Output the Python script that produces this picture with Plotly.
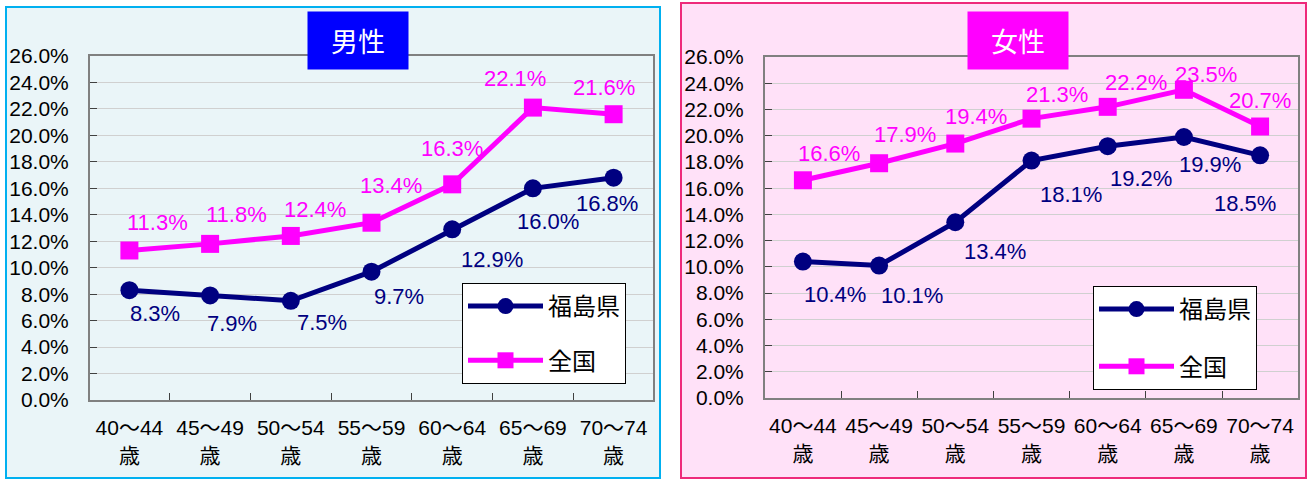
import plotly.graph_objects as go

# ---- data ----
age_groups = ["40～44<br>歳", "45～49<br>歳", "50～54<br>歳", "55～59<br>歳",
              "60～64<br>歳", "65～69<br>歳", "70～74<br>歳"]
male_fukushima = [8.3, 7.9, 7.5, 9.7, 12.9, 16.0, 16.8]
male_national = [11.3, 11.8, 12.4, 13.4, 16.3, 22.1, 21.6]
female_fukushima = [10.4, 10.1, 13.4, 18.1, 19.2, 19.9, 18.5]
female_national = [16.6, 17.9, 19.4, 21.3, 22.2, 23.5, 20.7]
series_names = ["福島県", "全国"]
panel_titles = ["男性", "女性"]
y_ticks = [0, 2, 4, 6, 8, 10, 12, 14, 16, 18, 20, 22, 24, 26]
y_tick_labels = [f"{v:.1f}%" for v in y_ticks]

# ---- label offsets (px: dx right, dy up) ----
off_mf = [(26, -23), (22, -28), (31, -22), (27, -25), (40, -30), (15, -33), (-7, -26)]
off_mn = [(28, 28), (26, 29), (24, 26), (19, 37), (0, 36), (-18, 29), (-10, 27)]
off_ff = [(32, -33), (33, -30), (40, -29), (39, -34), (33, -32), (26, -27), (-15, -48)]
off_fn = [(26, 27), (26, 29), (21, 27), (25, 24), (28, 24), (22, 15), (0, 26)]

W, H = 1309, 480
NAVY = "#000080"
MAGENTA = "#FF00FF"
NUM_FONT = "Liberation Sans, Arial, sans-serif"
JP_FONT = "Liberation Sans, Noto Sans CJK JP, sans-serif"


def px(xp):
    return xp / W


def py(yp):
    return 1 - yp / H


fig = go.Figure()

panels = [
    dict(xa="x", ya="y", legend="legend", fk=male_fukushima, nt=male_national,
         offf=off_mf, offn=off_mn),
    dict(xa="x2", ya="y2", legend="legend2", fk=female_fukushima, nt=female_national,
         offf=off_ff, offn=off_fn),
]

annotations = []
for pi, p in enumerate(panels):
    for si, (vals, color, symbol, offs) in enumerate([
        (p["fk"], NAVY, "circle", p["offf"]),
        (p["nt"], MAGENTA, "square", p["offn"]),
    ]):
        fig.add_trace(go.Scatter(
            x=age_groups, y=vals, mode="lines+markers",
            name=series_names[si],
            line=dict(color=color, width=5),
            marker=dict(color=color, size=18, symbol=symbol),
            xaxis=p["xa"], yaxis=p["ya"],
            legend=p["legend"], legendgroup=f"g{pi}{si}",
            hoverinfo="skip",
        ))
        for cat, v, (dx, dy) in zip(age_groups, vals, offs):
            annotations.append(dict(
                x=cat, y=v, xref=p["xa"], yref=p["ya"],
                text=f"{v:.1f}%", showarrow=False,
                xshift=dx, yshift=dy,
                font=dict(family=NUM_FONT, size=22, color=color),
            ))

# title boxes
for (title, color, x0) in [(panel_titles[0], "#0000FF", 307), (panel_titles[1], MAGENTA, 967)]:
    annotations.append(dict(
        x=px(x0), y=py(11), xref="paper", yref="paper",
        xanchor="left", yanchor="top",
        text=title, showarrow=False,
        width=98, height=55, bgcolor=color,
        font=dict(family="Noto Sans CJK JP", size=27, color="white"),
    ))

shapes = [
    dict(type="rect", xref="paper", yref="paper", layer="below",
         x0=px(6), x1=px(660), y0=py(478), y1=py(7),
         fillcolor="#EAF5F8", line=dict(color="#00B0F0", width=2)),
    dict(type="rect", xref="paper", yref="paper", layer="below",
         x0=px(681), x1=px(1306), y0=py(478), y1=py(3),
         fillcolor="#FFE1F8", line=dict(color="#EE2A7B", width=2)),
]

xaxis_common = dict(
    type="category", showgrid=False, showline=True, mirror=True,
    linecolor="#808080", linewidth=2,
    ticks="inside", tickson="boundaries", ticklen=7, tickcolor="#404040",
    tickfont=dict(family=JP_FONT, size=21, color="black"),
    tickangle=0, automargin=False,
    ticklabelstandoff=8, fixedrange=True,
)
yaxis_common = dict(
    range=[0, 26], tickmode="array", tickvals=y_ticks, ticktext=y_tick_labels,
    showgrid=True, gridcolor="#D0D0D0", gridwidth=1,
    showline=True, mirror=True, linecolor="#808080", linewidth=2,
    ticks="inside", ticklen=7, tickcolor="#404040",
    tickfont=dict(family=NUM_FONT, size=21, color="black"),
    ticklabelstandoff=15, zeroline=False, fixedrange=True, automargin=False,
)

legend_common = dict(
    bgcolor="white", bordercolor="black", borderwidth=1,
    font=dict(family="Noto Sans CJK JP", size=24, color="black"),
    xanchor="left", yanchor="top",
    itemwidth=75,
)

fig.update_layout(
    width=W, height=H,
    margin=dict(l=0, r=0, t=0, b=0, autoexpand=False),
    paper_bgcolor="white", plot_bgcolor="white",
    showlegend=True,
    xaxis=dict(domain=[px(90), px(653)], anchor="y", **xaxis_common),
    yaxis=dict(domain=[py(400), py(56)], anchor="x", **yaxis_common),
    xaxis2=dict(domain=[px(765), px(1298)], anchor="y2", **xaxis_common),
    yaxis2=dict(domain=[py(398), py(57)], anchor="x2", **yaxis_common),
    legend=dict(x=px(462), y=py(283), tracegroupgap=20, **legend_common),
    legend2=dict(x=px(1093), y=py(286), tracegroupgap=23, **legend_common),
    annotations=annotations,
    shapes=shapes,
)

fig.write_html("out.html", config={"displayModeBar": False},
               post_script="document.body.style.margin='0px';")
